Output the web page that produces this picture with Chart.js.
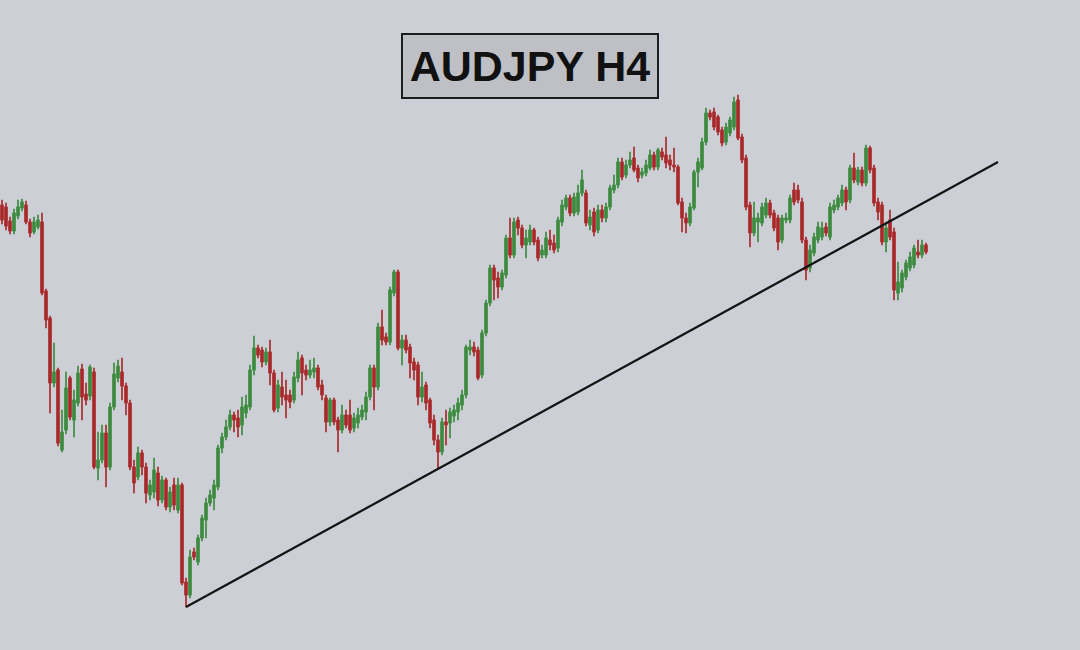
<!DOCTYPE html>
<html>
<head>
<meta charset="utf-8">
<title>AUDJPY H4</title>
<script src="https://cdn.jsdelivr.net/npm/chart.js@4.4.1/dist/chart.umd.min.js"></script>
<style>
    html, body { margin: 0; padding: 0; background: #cdcfd7; }
    #wrap { position: relative; width: 1080px; height: 650px; }
    #title {
        position: absolute; left: 401px; top: 33px; width: 254px; height: 62px;
        border: 2px solid #1c1c1c; background: #bfc0c6;
        font: bold 43px "Liberation Sans", Arial, sans-serif; color: #111;
        display: flex; align-items: center; justify-content: center;
    }
</style>
</head>
<body>
<div id="wrap">
    <canvas id="candles"></canvas>
    <div id="title">AUDJPY H4</div>
</div>
<script>
// price levels (chart units), one entry per H4 candle
const opens = [445,443,429,419,434,442,445,428,418,423,
    428,359,332,267,280,200,220,272,230,247,281,256,254,278,182,190,217,183,243,272,
    278,264,247,183,173,197,183,155,158,177,150,170,143,
    165,140,165,68,55,98,88,112,130,147,152,163,202,213,223,235,232,
    225,237,243,280,302,300,288,298,277,242,263,255,255,250,272,292,280,275,278,282,
    265,252,228,250,230,220,235,235,222,227,233,238,253,282,263,323,313,308,357,378,
    302,310,303,288,285,253,265,250,230,210,198,228,227,234,238,245,255,300,303,300,
    275,317,347,382,372,363,375,412,395,430,422,405,408,420,410,395,395,410,407,402,
    428,443,452,437,438,457,457,425,438,420,440,432,443,460,465,488,475,485,492,482,
    475,477,482,495,483,498,495,490,485,483,448,432,427,442,478,482,508,537,538,533,
    520,508,517,523,550,513,492,445,417,428,427,435,447,437,432,410,430,430,460,460,
    448,410,382,397,410,413,423,413,440,443,447,460,450,482,468,480,467,502,482,448,
    445,408,430,418,357,362,373,382,385,398,395,405];
const highs = [450,447,433,441,450,451,449,431,433,435,
    437,361,334,307,282,240,278,274,260,284,286,267,285,282,218,225,225,247,287,290,
    292,267,250,190,203,200,187,170,192,183,174,172,163,
    172,172,167,72,100,102,115,135,152,160,170,205,217,230,240,238,240,
    253,255,285,314,305,303,302,310,280,270,278,270,260,278,298,295,285,290,292,285,
    270,255,252,252,233,245,240,250,237,242,245,258,285,285,327,340,317,363,380,380,
    315,315,306,292,288,278,268,252,235,215,232,240,242,245,252,260,305,310,308,303,
    320,350,385,385,378,380,415,432,432,433,425,420,425,422,413,405,418,420,415,433,
    450,455,455,457,465,480,460,440,442,445,445,447,465,475,492,492,490,498,503,485,
    482,490,500,498,502,502,513,495,502,485,452,437,447,480,492,512,542,540,542,535,
    523,527,533,553,555,516,495,448,448,437,447,452,450,440,435,435,437,455,467,465,
    452,413,405,417,428,428,427,447,450,455,465,463,485,497,483,483,505,504,485,452,
    448,428,440,422,388,380,390,398,405,410,410,407];
const lows = [426,420,416,416,431,439,426,413,416,421,
    355,322,237,263,204,198,216,230,213,244,230,245,250,181,170,187,163,180,240,268,
    250,235,180,157,170,175,147,150,152,144,147,140,138,
    140,137,65,43,52,90,85,109,112,144,140,160,197,210,220,218,213,
    215,232,240,275,292,283,285,265,238,238,245,232,242,247,268,255,270,272,272,260,
    250,218,224,225,198,217,222,217,218,222,230,230,250,240,260,305,305,305,354,300,
    285,297,272,270,245,248,240,222,205,182,195,205,212,228,230,240,252,295,294,270,
    272,314,344,350,352,360,372,392,392,415,402,392,405,405,389,392,392,400,397,398,
    424,440,434,434,435,454,424,420,414,417,428,428,440,457,462,470,472,482,478,468,
    472,474,480,480,480,490,482,480,478,445,418,417,424,440,463,480,505,530,520,515,
    504,505,514,520,510,487,440,403,414,408,424,432,432,419,400,407,427,427,445,447,
    407,370,378,394,407,410,414,410,437,440,444,440,447,467,465,464,464,477,444,430,
    405,398,410,350,350,358,370,379,382,392,392,396];
const closes = [430,424,419,437,443,448,428,417,428,430,
    357,330,267,278,207,218,262,233,250,277,253,250,283,183,190,217,183,243,276,284,
    264,247,183,167,197,183,157,165,180,150,170,143,158,
    145,165,67,55,93,93,112,132,147,155,165,202,213,223,235,230,223,
    243,245,280,302,295,288,298,277,240,265,253,250,248,273,290,277,275,280,282,263,
    255,228,250,228,220,235,225,220,232,235,240,253,282,263,323,310,308,360,378,302,
    310,300,287,280,253,263,247,227,210,198,228,225,238,240,247,255,303,303,298,272,
    317,347,382,370,363,377,412,395,428,422,405,412,420,408,392,400,412,405,400,430,
    445,452,437,453,457,470,427,433,418,440,432,443,462,465,488,473,485,490,480,472,
    478,485,495,483,500,493,487,485,483,447,432,427,443,478,488,508,537,533,523,518,
    507,523,530,548,512,490,443,417,432,432,443,447,435,422,408,432,432,452,448,450,
    410,380,400,413,423,422,417,443,445,452,460,448,482,470,480,467,502,480,447,438,
    408,422,413,360,368,377,387,393,402,395,405,398];

const totalSlots = 270;              // candle slots across the window, right side left empty
const slotLabels = Array.from({ length: totalSlots }, (_, i) => i);

// trendline anchors: [slot, level]
const trendStart = [46, 43];
const trendEnd = [249, 488];

const upColor = '#3b8a3e';
const downColor = '#a8282a';

document.addEventListener('DOMContentLoaded', function () {
    const colors = closes.map((c, i) => (c >= opens[i] ? upColor : downColor));
    const bodies = opens.map((o, i) => [o, closes[i]]);
    const wicks = lows.map((l, i) => [l, highs[i]]);

    const trend = new Array(totalSlots).fill(null);
    trend[trendStart[0]] = trendStart[1];
    trend[trendEnd[0]] = trendEnd[1];

    const ctx = document.getElementById('candles').getContext('2d');
    new Chart(ctx, {
        type: 'bar',
        data: {
            labels: slotLabels,
            datasets: [
                {
                    type: 'line',
                    label: 'Trendline',
                    data: trend,
                    borderColor: '#141414',
                    borderWidth: 2.2,
                    pointRadius: 0,
                    spanGaps: true,
                    order: 0
                },
                {
                    label: 'Wicks',
                    data: wicks,
                    backgroundColor: colors,
                    barThickness: 1,
                    grouped: false,
                    order: 2
                },
                {
                    label: 'Bodies',
                    data: bodies,
                    backgroundColor: colors,
                    barThickness: 3,
                    minBarLength: 1,
                    grouped: false,
                    order: 1
                }
            ]
        },
        options: {
            responsive: true,
            maintainAspectRatio: false,
            animation: false,
            layout: { padding: 0 },
            plugins: {
                legend: { display: false },
                tooltip: { enabled: false }
            },
            scales: {
                x: { display: false, offset: true },
                y: { display: false, min: 0, max: 650 }
            }
        }
    });
});
</script>
</body>
</html>
